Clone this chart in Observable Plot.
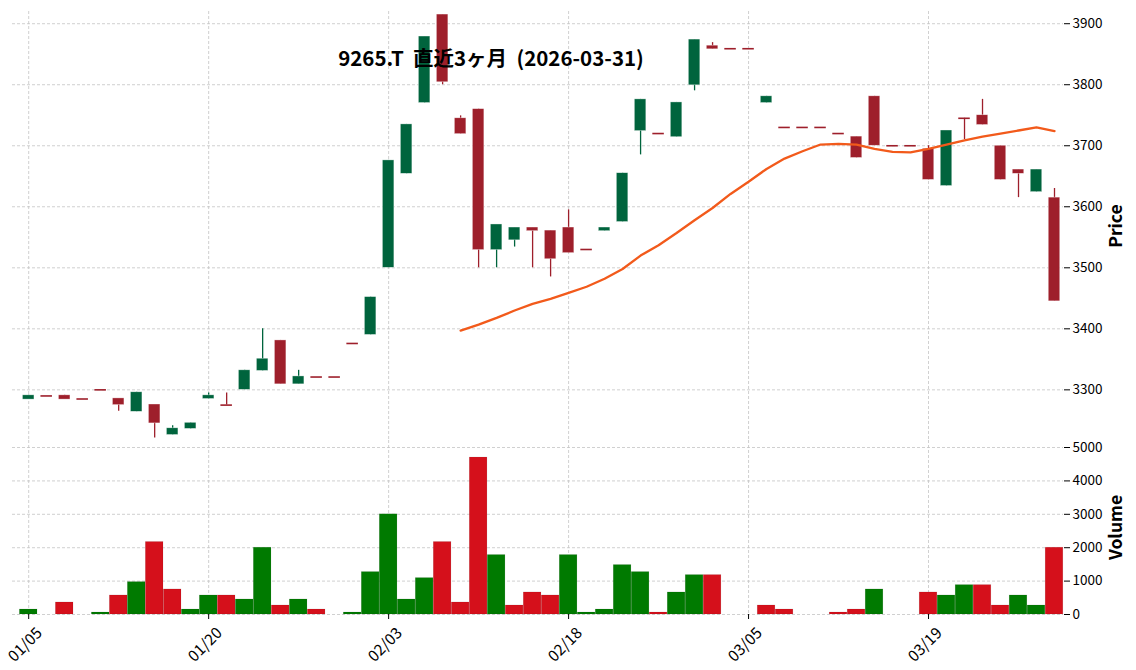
<!DOCTYPE html>
<html><head><meta charset="utf-8">
<script src="https://cdn.jsdelivr.net/npm/d3@7"></script>
<script src="https://cdn.jsdelivr.net/npm/@observablehq/plot@0.6"></script>
<style>
body{margin:0;background:#fff;}
#charts{width:1136px;height:670px;}
#charts svg{display:block;}
g[aria-label="y-axis label"] text{font-weight:bold;font-size:17.5px;}
g[aria-label="text"] text{white-space:pre;}
</style></head><body><div id="charts"></div>
<script>
const title = "9265.T  直近3ヶ月  (2026-03-31)";
const dates = ["01/05","01/06","01/07","01/08","01/09","01/13","01/14","01/15","01/16","01/19",
"01/20","01/21","01/22","01/23","01/26","01/27","01/28","01/29","01/30","02/02",
"02/03","02/04","02/05","02/06","02/09","02/10","02/12","02/13","02/16","02/17",
"02/18","02/19","02/20","02/24","02/25","02/26","02/27","03/02","03/03","03/04",
"03/05","03/06","03/09","03/10","03/11","03/12","03/13","03/16","03/17","03/18",
"03/19","03/23","03/24","03/25","03/26","03/27","03/30","03/31"];
const tickLabels = ["01/05","01/20","02/03","02/18","03/05","03/19"];
const open = [3284,3290,3291,3285,3300,3286,3264,3276,3226,3236,
3285,3275,3300,3331,3381,3309,3321,3321,3376,3390,
3500,3654,3770,3915,3745,3760,3529,3545,3566,3561,
3566,3530,3560,3575,3724,3720,3714,3799,3864,3859,
3859,3770,3730,3730,3730,3720,3715,3781,3700,3700,
3695,3634,3745,3750,3700,3661,3624,3615];
const high = [3291,3290,3291,3285,3300,3286,3296,3276,3241,3246,
3295,3295,3332,3400,3381,3332,3321,3321,3376,3452,
3676,3735,3879,3915,3749,3760,3571,3566,3566,3561,
3595,3530,3566,3655,3776,3720,3771,3874,3869,3859,
3859,3781,3730,3730,3730,3720,3715,3781,3700,3700,
3700,3725,3745,3776,3700,3661,3661,3630];
const low = [3284,3290,3284,3285,3300,3265,3264,3221,3226,3236,
3285,3275,3300,3331,3309,3309,3321,3321,3376,3390,
3500,3654,3770,3800,3719,3500,3500,3534,3500,3485,
3524,3530,3560,3575,3685,3720,3714,3790,3858,3859,
3859,3770,3730,3730,3730,3720,3680,3700,3700,3700,
3644,3634,3710,3734,3644,3615,3624,3445];
const close = [3291,3290,3284,3285,3300,3275,3296,3245,3237,3246,
3291,3275,3332,3351,3309,3322,3321,3321,3376,3452,
3676,3735,3879,3804,3719,3529,3571,3566,3560,3514,
3524,3530,3566,3655,3776,3720,3771,3874,3858,3859,
3859,3781,3730,3730,3730,3720,3680,3700,3700,3700,
3644,3725,3745,3734,3644,3654,3661,3445];
const volume = [150,0,360,0,60,570,970,2170,750,150,
570,570,450,2000,270,450,150,0,60,1270,
3000,450,1090,2170,360,4700,1780,270,660,570,
1780,60,150,1480,1270,60,660,1180,1180,0,
0,270,150,0,0,60,150,750,0,0,
660,570,880,880,270,570,270,2000];
// 25-day moving average (starts at 02/09)
const maStart = "02/09";
const ma25 = [3397,3407,3418,3430,3441,3449,3459,3469,3482,3498,
3520,3537,3557,3578,3598,3621,3641,3662,3679,3691,
3702,3703,3702,3695,3690,3689,3695,3702,3709,3715,
3720,3725,3730,3724];
const priceTicks = [3300,3400,3500,3600,3700,3800,3900];
const volTicks = [0,1000,2000,3000,4000,5000];

const UP = "#00643d", DOWN = "#9e1f2b", VUP = "#007a00", VDOWN = "#d5101b", MAC = "#f25a1b";
const rows = dates.map((d,i)=>({i, date:d, open:open[i], high:high[i], low:low[i], close:close[i], volume:volume[i],
  up: close[i] > open[i], vup: i === 0 ? true : close[i] >= close[i-1]}));
const m0 = dates.indexOf(maStart);
const maRows = ma25.map((v,k)=>({i:m0+k, ma:v}));
const tickIdx = tickLabels.map(l=>dates.indexOf(l));

const W = 1136, ML = 12, MR = 73;
const xDomain = [-0.9, 57.5];
const font = '"Noto Sans CJK JP", "Noto Sans", sans-serif';
const gridStyle = {stroke:"#c4c4c4", strokeOpacity:1, strokeDasharray:"3,2", strokeWidth:0.8};
const hw = 0.32;

const price = Plot.plot({
  width: W, height: 440, marginTop: 11, marginBottom: 0, marginLeft: ML, marginRight: MR,
  style: {fontFamily: font, fontSize: "13.5px", color: "#000", background: "#fff", overflow: "visible"},
  x: {domain: xDomain, axis: null},
  y: {domain: [3217, 3920], axis: null},
  color: {type: "identity"},
  marks: [
    Plot.gridX(tickIdx, gridStyle),
    Plot.gridY(priceTicks, gridStyle),
    Plot.axisY(priceTicks, {anchor: "right", tickSize: 6, tickPadding: 3, tickFormat: d => String(d),
      label: "Price", labelAnchor: "center", labelArrow: "none", labelOffset: 58}),
    Plot.ruleX(rows, {x: "i", y1: "low", y2: "high", stroke: d => d.up ? UP : DOWN, strokeWidth: 1.3}),
    Plot.rect(rows.filter(d => d.open !== d.close), {x1: d => d.i - hw, x2: d => d.i + hw, y1: "open", y2: "close",
      fill: d => d.up ? UP : DOWN, stroke: "#fff", strokeOpacity: 0.6, strokeWidth: 0.6}),
    Plot.ruleY(rows.filter(d => d.open === d.close), {y: "open", x1: d => d.i - hw, x2: d => d.i + hw, stroke: DOWN, strokeWidth: 1.6}),
    Plot.line(maRows, {x: "i", y: "ma", stroke: MAC, strokeWidth: 2.3}),
    Plot.text([title], {frameAnchor: "top", dx: -47, dy: 40, fontSize: 20.5, fontWeight: "bold", fill: "#000", text: d => d})
  ]
});

const vol = Plot.plot({
  width: W, height: 230, marginTop: 0, marginBottom: 56, marginLeft: ML, marginRight: MR,
  style: {fontFamily: font, fontSize: "13.5px", color: "#000", background: "#fff", overflow: "visible"},
  x: {domain: xDomain},
  y: {domain: [0, 5210], axis: null},
  color: {type: "identity"},
  marks: [
    Plot.gridX(tickIdx, gridStyle),
    Plot.gridY(volTicks, gridStyle),
    Plot.axisY(volTicks, {anchor: "right", tickSize: 6, tickPadding: 3, tickFormat: d => String(d),
      label: "Volume", labelAnchor: "center", labelArrow: "none", labelOffset: 58}),
    Plot.axisX(tickIdx, {tickSize: 5, tickFormat: () => "", label: null}),
    Plot.axisX(tickIdx, {tickFormat: i => dates[i], tickRotate: -45, tickSize: 0, tickPadding: 3, label: null, dx: 11, dy: 13, fontSize: 15.5}),
    Plot.rect(rows.filter(d => d.volume > 0), {x1: d => d.i - 0.49, x2: d => d.i + 0.49, y1: 0, y2: "volume",
      fill: d => d.vup ? VUP : VDOWN, stroke: "#000", strokeOpacity: 0.12, strokeWidth: 0.6})
  ]
});

const c = document.getElementById("charts");
c.appendChild(price);
c.appendChild(vol);
</script>
</body></html>
